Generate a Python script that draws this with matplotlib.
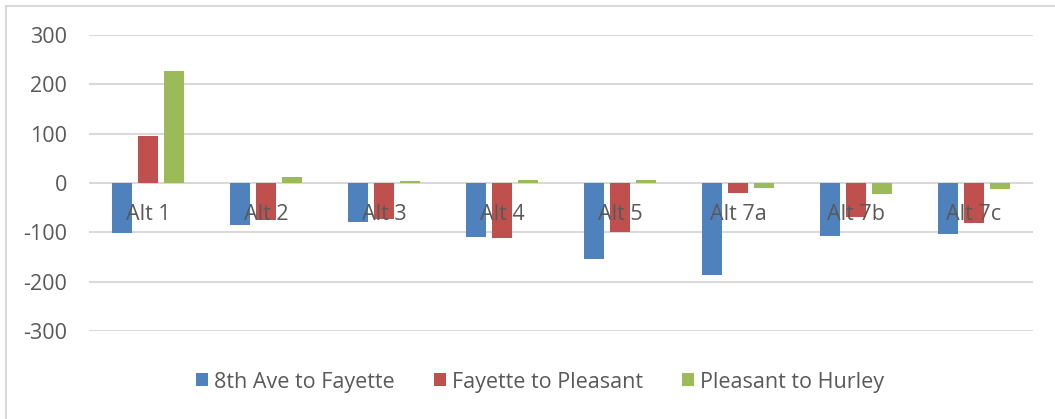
import numpy as np
import matplotlib
matplotlib.use('Agg')
import matplotlib.pyplot as plt
from matplotlib.patches import Rectangle

plt.rcParams['font.family'] = ['Open Sans', 'DejaVu Sans']

# Data
alts = ['Alt 1', 'Alt 2', 'Alt 3', 'Alt 4', 'Alt 5', 'Alt 7a', 'Alt 7b', 'Alt 7c']
series_names = ['8th Ave to Fayette', 'Fayette to Pleasant', 'Pleasant to Hurley']
ave8_fayette = [-101, -85, -80, -109, -154, -186, -107, -103]
fayette_pleasant = [96, -74, -73, -112, -99, -21, -69, -82]
pleasant_hurley = [227, 12, 5, 7, 7, -10, -22, -13]
yticks = [-300, -200, -100, 0, 100, 200, 300]

colors = ['#4F81BD', '#C0504D', '#9BBB59']
text_col = '#595959'
grid_col = '#D9D9D9'

fig = plt.figure(figsize=(10.55, 4.19), dpi=100)
ax = fig.add_axes([89/1055, 1-331/419, (1033-89)/1055, (331-35)/419])

# outer chart border
fig.patches.append(Rectangle((5.5/1055, -0.1), 1.2, 1 - 6/419 + 0.1,
                             transform=fig.transFigure, fill=False,
                             edgecolor=grid_col, linewidth=1.5))

x = np.arange(len(alts))
w = 0.174
step = 0.22
for i, (vals, name) in enumerate(zip([ave8_fayette, fayette_pleasant, pleasant_hurley], series_names)):
    ax.bar(x + (i - 1) * step, vals, width=w, color=colors[i], label=name, zorder=3)

ax.set_xlim(-0.5, len(alts) - 0.5)
ax.set_ylim(-300, 300)
ax.set_yticks(yticks)
ax.set_yticklabels([str(v) for v in yticks])
for v in yticks:
    ax.axhline(v, color=grid_col, linewidth=1.5, zorder=1)

for s in ax.spines.values():
    s.set_visible(False)
ax.set_xticks([])
ax.tick_params(axis='y', length=0, pad=16, labelsize=15.5, labelcolor=text_col)

# category names sit just under the zero line, on top of the bars
for xi, name in zip(x, alts):
    ax.annotate(name, (xi, 0), xytext=(0, -22.5), textcoords='offset points',
                ha='center', va='center', fontsize=15.5, color=text_col, zorder=5)

leg = fig.legend(loc='center', bbox_to_anchor=(540/1055, 1-382/419), ncol=3,
                 frameon=False, fontsize=15.5, handlelength=0.55, handleheight=0.55,
                 handletextpad=0.3, columnspacing=1.8, labelcolor=text_col)

fig.savefig('out.png', dpi=100)
